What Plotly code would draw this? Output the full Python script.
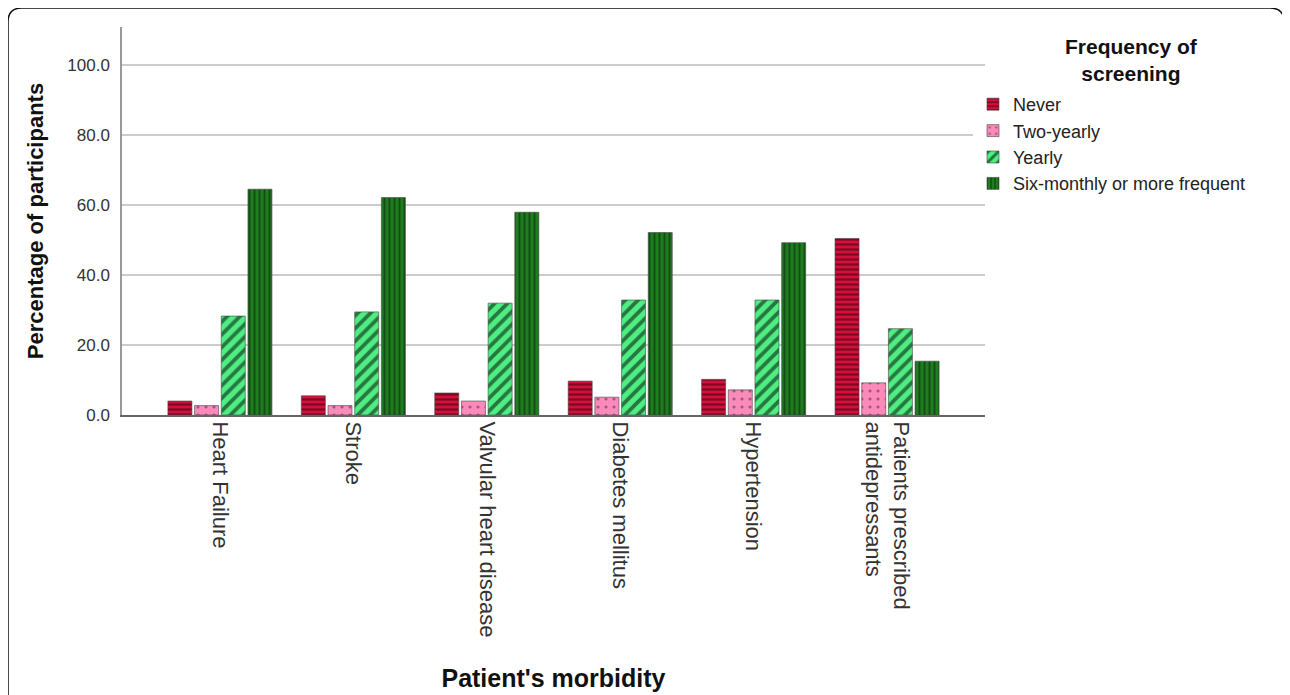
import plotly.graph_objects as go

categories = ["Heart Failure", "Stroke", "Valvular heart disease", "Diabetes mellitus",
              "Hypertension", "Patients prescribed<br>antidepressants"]
series_names = ["Never", "Two-yearly", "Yearly", "Six-monthly or more frequent"]
never = [4.0, 5.5, 6.3, 9.7, 10.2, 50.5]
two_yearly = [2.7, 2.7, 4.0, 5.1, 7.2, 9.2]
yearly = [28.3, 29.5, 32.0, 32.9, 32.9, 24.7]
six_monthly = [64.6, 62.2, 58.0, 52.2, 49.3, 15.4]
y_ticks = [0, 20, 40, 60, 80, 100]
y_tick_labels = ["0.0", "20.0", "40.0", "60.0", "80.0", "100.0"]

values = [never, two_yearly, yearly, six_monthly]
colors = ["#d3103c", "#f98ab9", "#4fee82", "#1f7d1f"]
patterns = [
    dict(shape="-", fgcolor="#2a0008", size=5, solidity=0.45),
    dict(shape=".", fgcolor="#5a2040", size=8, solidity=0.12),
    dict(shape="/", fgcolor="#000000", size=9, solidity=0.42),
    dict(shape="|", fgcolor="#0a200a", size=5, solidity=0.4),
]

fig = go.Figure()
for name, vals, col, pat in zip(series_names, values, colors, patterns):
    fig.add_trace(go.Bar(
        x=categories, y=vals, name=name,
        marker=dict(color=col, pattern=pat, line=dict(color="#444", width=0.6)),
    ))

# page offset of the figure (browser body margin)
OFF = 8
W, H = 1290 - OFF, 695 - OFF
PL, PR, PT, PB = 122, 985, 27, 415  # plot area in page pixels
L, T = PL - OFF, PT - OFF
R, B = W - (PR - OFF), H - (PB - OFF)
pw, ph = PR - PL, PB - PT


def px_x(p):
    return (p - PL) / pw


def px_y(p):
    return (PB - p) / ph


x0, x1 = px_x(8), px_x(1284)
y0, y1 = px_y(8), px_y(720)
rx, ry = 14 / pw, 14 / ph
path = (f"M {x0} {y1} L {x0} {y0 - ry} Q {x0} {y0} {x0 + rx} {y0} "
        f"L {x1 - rx} {y0} Q {x1} {y0} {x1} {y0 - ry} L {x1} {y1}")

fig.update_layout(
    width=W, height=H,
    margin=dict(l=L, r=R, t=T, b=B, autoexpand=False),
    paper_bgcolor="white", plot_bgcolor="white",
    barmode="group", bargap=0.2, bargroupgap=0.1,
    font=dict(family="Arial, Liberation Sans, sans-serif", color="#222"),
    legend=dict(
        x=px_x(973), y=px_y(86), xanchor="left", yanchor="top",
        font=dict(size=18, color="#222"),
        itemwidth=30, tracegroupgap=0,
    ),
    annotations=[dict(
        text="<b>Frequency of<br>screening</b>", xref="paper", yref="paper",
        x=px_x(1131), y=px_y(33), xanchor="center", yanchor="top",
        align="center", showarrow=False, font=dict(size=21, color="#111"),
    )],
    shapes=[dict(type="path", xref="paper", yref="paper", path=path,
                 line=dict(color="#111", width=1.5), layer="above")],
)
fig.update_xaxes(
    range=[-0.734, 5.734], tickangle=90,
    tickfont=dict(size=22, color="#333"),
    showline=True, linecolor="#666", linewidth=2,
    ticks="", showgrid=False,
    title=dict(text="<b>Patient's morbidity</b>", font=dict(size=25, color="#111"), standoff=33),
)
fig.update_yaxes(
    range=[0, 111], tickvals=y_ticks, ticktext=y_tick_labels,
    tickfont=dict(size=17, color="#333"),
    showgrid=True, gridcolor="#cccccc", gridwidth=1.5,
    showline=True, linecolor="#999", linewidth=1.5,
    zeroline=False, ticks="", ticklabelstandoff=7,
    title=dict(text="<b>Percentage of participants</b>", font=dict(size=22, color="#111"), standoff=18),
)
fig.write_html("out.html")
